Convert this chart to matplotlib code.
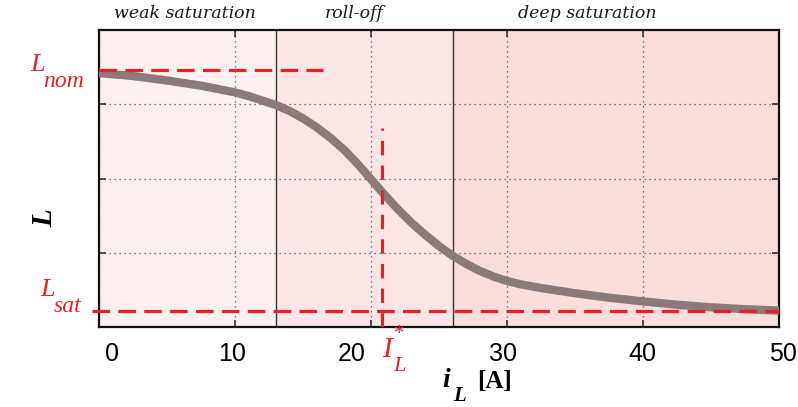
import matplotlib
matplotlib.use("Agg")
import matplotlib.pyplot as plt
from matplotlib.transforms import ScaledTranslation

# inductance roll-off curve (arbitrary L units, 0..4 box)
i_L = [0, 2.5, 5, 7.5, 10, 11, 12, 13, 14, 15, 16, 17, 18, 19, 20, 21, 22,
       23, 24, 25, 26, 27, 28, 29, 30, 31, 32.5, 35, 37.5, 40, 42.5, 45, 47.5, 50]
L_val = [3.42, 3.38, 3.32, 3.25, 3.16, 3.11, 3.05, 2.99, 2.91, 2.81, 2.69,
         2.55, 2.39, 2.20, 1.99, 1.78, 1.58, 1.40, 1.24, 1.09, 0.96, 0.85,
         0.755, 0.68, 0.62, 0.575, 0.525, 0.455, 0.395, 0.345, 0.30, 0.265,
         0.24, 0.22]

# region borders and reference levels
region_edges = [0, 13, 26, 50]
region_names = ["weak saturation", "roll-off", "deep saturation"]
region_label_x = [6.3, 18.8, 35.9]
region_colors = ["#fdf1f0", "#fce6e5", "#fbdddc"]
L_nom = 3.46
L_nom_end = 16.5
L_sat = 0.22
I_star = 20.8
I_star_top = 2.68

xticks = [0, 10, 20, 30, 40, 50]
xtick_shift_px = [13, -3, -19, -4, -1, 4]   # labels in the original sit a bit off their ticks
red = "#e8202a"

fig = plt.figure(figsize=(7.98, 4.07), dpi=100)
ax = fig.add_axes([99 / 798, 1 - 327 / 407, 680 / 798, 297 / 407])

for k, name in enumerate(region_names):
    ax.axvspan(region_edges[k], region_edges[k + 1], color=region_colors[k], lw=0, zorder=0)
    ax.text(region_label_x[k], 4.22, name, ha="center", va="center",
            family="DejaVu Serif", style="italic", fontsize=12.5, color="#1a1a1a",
            clip_on=False)
for edge in region_edges[1:-1]:
    ax.axvline(edge, color="#333333", lw=1.0, zorder=1)

ax.set_xlim(0, 50)
ax.set_ylim(0, 4)
ax.set_xticks(xticks)
ax.set_xticklabels([str(t) for t in xticks], family="Liberation Sans", fontsize=18)
ax.set_yticks([1, 2, 3])
ax.set_yticklabels([])
ax.tick_params(direction="in", top=True, right=True, length=5, width=1.2, pad=11,
               color="#333333")
for lab, dx in zip(ax.get_xticklabels(), xtick_shift_px):
    lab.set_transform(lab.get_transform() + ScaledTranslation(dx / 100, 0, fig.dpi_scale_trans))
ax.grid(True, linestyle=(0, (1, 3)), color="#555555", lw=0.9)
for s in ax.spines.values():
    s.set_linewidth(1.6)
    s.set_color("#111111")

ax.plot(i_L, L_val, color="#8b7a7a", lw=6, solid_capstyle="butt",
        solid_joinstyle="round", zorder=3)

ax.plot([0, L_nom_end], [L_nom, L_nom], color=red, lw=2.3, dashes=(5.5, 2.6), zorder=4)
ax.plot([-0.5, 50], [L_sat, L_sat], color=red, lw=2.3, dashes=(5.5, 2.6), zorder=4,
        clip_on=False)
ax.plot([I_star, I_star], [0, I_star_top], color=red, lw=2.3, dashes=(4.5, 3.2), zorder=4)

# red annotations
ser = "Liberation Serif"
ax.text(-4.5, 3.53, "L", color=red, family=ser, style="italic", fontsize=19,
        ha="center", va="center", clip_on=False)
ax.text(-2.6, 3.31, "nom", color=red, family=ser, style="italic", fontsize=17,
        ha="center", va="center", clip_on=False)
ax.text(-3.8, 0.50, "L", color=red, family=ser, style="italic", fontsize=19,
        ha="center", va="center", clip_on=False)
ax.text(-2.3, 0.27, "sat", color=red, family=ser, style="italic", fontsize=17,
        ha="center", va="center", clip_on=False)
ax.text(21.2, -0.31, "I", color=red, family=ser, style="italic", fontsize=21,
        ha="center", va="center", clip_on=False)
ax.text(22.1, -0.10, "*", color=red, family=ser, fontsize=15,
        ha="center", va="center", clip_on=False)
ax.text(22.1, -0.53, "L", color=red, family=ser, style="italic", fontsize=16,
        ha="center", va="center", clip_on=False)

# axis labels
ax.text(-3.97, 1.47, "L", family=ser, style="italic", weight="bold", fontsize=21,
        rotation=90, ha="center", va="center", clip_on=False)
ax.text(25.5, -0.72, "i", family=ser, style="italic", weight="bold", fontsize=20,
        ha="center", va="center", clip_on=False)
ax.text(26.5, -0.93, "L", family=ser, style="italic", weight="bold", fontsize=15,
        ha="center", va="center", clip_on=False)
ax.text(29.1, -0.74, "[A]", family=ser, weight="bold", fontsize=18,
        ha="center", va="center", clip_on=False)

fig.savefig("out.png", dpi=100)
